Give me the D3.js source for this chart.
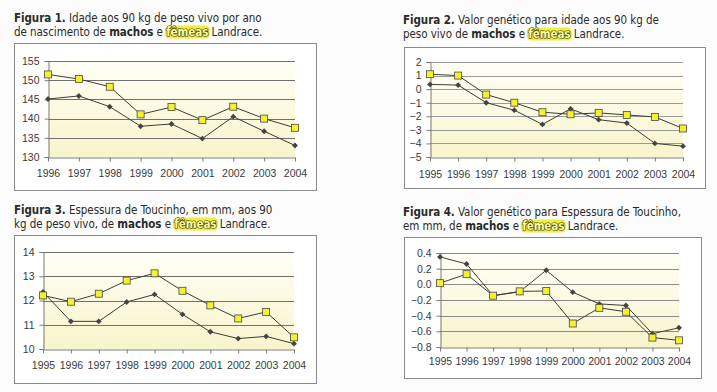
<!DOCTYPE html>
<html>
<head>
<meta charset="utf-8">
<script src="https://cdn.jsdelivr.net/npm/d3@7"></script>
<style>
  body { margin: 0; background: #fcfcfc; }
  svg { display: block; }
</style>
</head>
<body>
<svg id="chart" width="717" height="392"></svg>
<script>
// anos
const years_1996 = ['1996', '1997', '1998', '1999', '2000', '2001', '2002', '2003', '2004'];
const years_1995 = ['1995', '1996', '1997', '1998', '1999', '2000', '2001', '2002', '2003', '2004'];

// Figura 1 - idade aos 90 kg
const fig1_machos = [145.1, 145.9, 143.1, 138.0, 138.6, 134.8, 140.5, 136.7, 133.0];
const fig1_femeas = [151.5, 150.3, 148.3, 141.1, 143.0, 139.6, 143.1, 140.0, 137.6];
const fig1_ticks = [130, 135, 140, 145, 150, 155];

// Figura 2 - valor genetico idade
const fig2_machos = [0.35, 0.3, -1.0, -1.55, -2.6, -1.45, -2.25, -2.5, -4.0, -4.2];
const fig2_femeas = [1.1, 1.0, -0.4, -1.0, -1.7, -1.85, -1.75, -1.9, -2.05, -2.9];
const fig2_ticks = [-5, -4, -3, -2, -1, 0, 1, 2];

// Figura 3 - espessura de toucinho
const fig3_machos = [12.35, 11.14, 11.14, 11.94, 12.25, 11.43, 10.71, 10.43, 10.52, 10.22];
const fig3_femeas = [12.21, 11.95, 12.28, 12.82, 13.12, 12.4, 11.8, 11.26, 11.53, 10.48];
const fig3_ticks = [10, 11, 12, 13, 14];

// Figura 4 - valor genetico espessura
const fig4_machos = [0.35, 0.26, -0.145, -0.095, 0.18, -0.1, -0.25, -0.27, -0.63, -0.555];
const fig4_femeas = [0.015, 0.13, -0.145, -0.09, -0.085, -0.5, -0.3, -0.35, -0.68, -0.715];
const fig4_ticks = [-0.8, -0.6, -0.4, -0.2, 0.0, 0.2, 0.4];

const svg = d3.select('#chart');

let defs = svg.append('defs');
let grad = defs.append('linearGradient').attr('id', 'plot_fill')
    .attr('x1', 0).attr('y1', 0).attr('x2', 0).attr('y2', 1);
grad.append('stop').attr('offset', '0%').attr('stop-color', '#fffff6');
grad.append('stop').attr('offset', '100%').attr('stop-color', '#f8f4cc');

const title_font = '"DejaVu Sans Condensed", "DejaVu Sans", sans-serif';

function draw_title(g, x, y, number, line1, line2_before) {
    let t1 = g.append('text')
        .attr('x', x).attr('y', y)
        .style('font-family', title_font)
        .style('font-size', '11.5px')
        .style('letter-spacing', '-0.05px')
        .style('fill', '#2a2a2a');
    t1.append('tspan').style('font-weight', 'bold').text('Figura ' + number + '.');
    t1.append('tspan').text(' ' + line1);

    let t2 = g.append('text')
        .attr('x', x).attr('y', y + 14)
        .style('font-family', title_font)
        .style('font-size', '11.5px')
        .style('letter-spacing', '-0.05px')
        .style('fill', '#2a2a2a');
    t2.append('tspan').text(line2_before);
    t2.append('tspan').style('font-weight', 'bold').text('machos');
    t2.append('tspan').text(' e ');
    let fem = t2.append('tspan')
        .style('font-weight', 'bold')
        .style('fill', '#fdfb9a')
        .style('stroke', '#2e2e20')
        .style('stroke-width', '1.1px')
        .style('paint-order', 'stroke')
        .text('fêmeas');
    t2.append('tspan').text(' Landrace.');

    // yellow highlight behind fêmeas
    let n = fem.node();
    let start = n.getStartPositionOfChar(0);
    let len = n.getComputedTextLength();
    g.insert('rect', 'text')
        .attr('x', start.x - 1.5)
        .attr('y', y + 14 - 10.5)
        .attr('width', len + 3)
        .attr('height', 13)
        .attr('rx', 4.5)
        .style('fill', '#f2ee3a');
}

function draw_panel(cfg) {
    let g = svg.append('g');

    draw_title(g, cfg.title_x, cfg.title_y, cfg.number, cfg.line1, cfg.line2);

    g.append('rect')
        .attr('x', cfg.box[0] + 0.5).attr('y', cfg.box[1] + 0.5)
        .attr('width', cfg.box[2] - cfg.box[0]).attr('height', cfg.box[3] - cfg.box[1])
        .style('fill', '#ffffff')
        .style('stroke', '#8a8a8a')
        .style('stroke-width', 1);

    let x = d3.scalePoint().domain(cfg.years).range([cfg.plot[0], cfg.plot[1]]);
    let y = d3.scaleLinear().domain(d3.extent(cfg.ticks)).range([cfg.plot[3], cfg.plot[2]]);

    g.append('rect')
        .attr('x', cfg.plot[0]).attr('y', cfg.plot[2])
        .attr('width', cfg.plot[1] - cfg.plot[0]).attr('height', cfg.plot[3] - cfg.plot[2])
        .style('fill', 'url(#plot_fill)');

    // grid lines
    g.append('g').selectAll('line')
        .data(cfg.ticks.slice(1))
        .join('line')
        .attr('x1', cfg.plot[0]).attr('x2', cfg.plot[1])
        .attr('y1', d => Math.round(y(d)) + 0.5).attr('y2', d => Math.round(y(d)) + 0.5)
        .style('stroke', cfg.grid_color)
        .style('stroke-width', 1);

    let y_axis = g.append('g')
        .attr('transform', 'translate(' + (cfg.plot[0] + 0.5) + ',0)')
        .call(d3.axisLeft(y).tickValues(cfg.ticks).tickSize(4).tickPadding(5).tickFormat(cfg.fmt));
    let x_axis = g.append('g')
        .attr('transform', 'translate(0,' + (Math.round(y(cfg.ticks[0])) + 0.5) + ')')
        .call(d3.axisBottom(x).tickSize(4).tickPadding(cfg.x_pad).tickSizeOuter(0));

    [y_axis, x_axis].forEach(function (a) {
        a.select('.domain').style('stroke', '#7a7a7a');
        a.selectAll('.tick line').style('stroke', '#7a7a7a');
        a.selectAll('text')
            .style('font-family', '"Liberation Sans", Arial, sans-serif')
            .style('font-size', '10.5px')
            .style('fill', '#3a3a3a');
    });

    let line = d3.line().x((d, i) => x(cfg.years[i])).y(d => y(d));

    g.append('path').datum(cfg.machos)
        .attr('d', line)
        .style('fill', 'none').style('stroke', '#3c3c3c').style('stroke-width', 1);
    g.append('path').datum(cfg.femeas)
        .attr('d', line)
        .style('fill', 'none').style('stroke', '#3c3c3c').style('stroke-width', 1);

    g.append('g').selectAll('path')
        .data(cfg.machos)
        .join('path')
        .attr('d', d3.symbol().type(d3.symbolDiamond2).size(22))
        .attr('transform', (d, i) => 'translate(' + x(cfg.years[i]) + ',' + y(d) + ')')
        .style('fill', '#444444');

    g.append('g').selectAll('rect')
        .data(cfg.femeas)
        .join('rect')
        .attr('x', (d, i) => x(cfg.years[i]) - 3.5)
        .attr('y', d => y(d) - 3.5)
        .attr('width', 7).attr('height', 7)
        .style('fill', '#f5f030')
        .style('stroke', '#4a4a3a')
        .style('stroke-width', 0.8);
}

draw_panel({
    number: 1, title_x: 14, title_y: 22,
    line1: 'Idade aos 90 kg de peso vivo por ano', line2: 'de nascimento de ',
    box: [14, 43, 316, 190], plot: [48, 295, 61, 157],
    years: years_1996, machos: fig1_machos, femeas: fig1_femeas, ticks: fig1_ticks,
    fmt: d3.format('d'), grid_color: '#707070', x_pad: 8
});

draw_panel({
    number: 2, title_x: 403, title_y: 24,
    line1: 'Valor genético para idade aos 90 kg de', line2: 'peso vivo de ',
    box: [404, 47, 705, 188], plot: [430, 683, 62, 157],
    years: years_1995, machos: fig2_machos, femeas: fig2_femeas, ticks: fig2_ticks,
    fmt: d3.format('d'), grid_color: '#9a9a9a', x_pad: 9
});

draw_panel({
    number: 3, title_x: 14, title_y: 214,
    line1: 'Espessura de Toucinho, em mm, aos 90', line2: 'kg de peso vivo, de ',
    box: [14, 235, 316, 383], plot: [43, 294, 252, 349],
    years: years_1995, machos: fig3_machos, femeas: fig3_femeas, ticks: fig3_ticks,
    fmt: d3.format('d'), grid_color: '#707070', x_pad: 8
});

draw_panel({
    number: 4, title_x: 403, title_y: 216,
    line1: 'Valor genético para Espessura de Toucinho,', line2: 'em mm, de ',
    box: [404, 237, 701, 378], plot: [440, 679, 253, 347],
    years: years_1995, machos: fig4_machos, femeas: fig4_femeas, ticks: fig4_ticks,
    fmt: d3.format('.1f'), grid_color: '#8a8a8a', x_pad: 6
});
</script>
</body>
</html>
